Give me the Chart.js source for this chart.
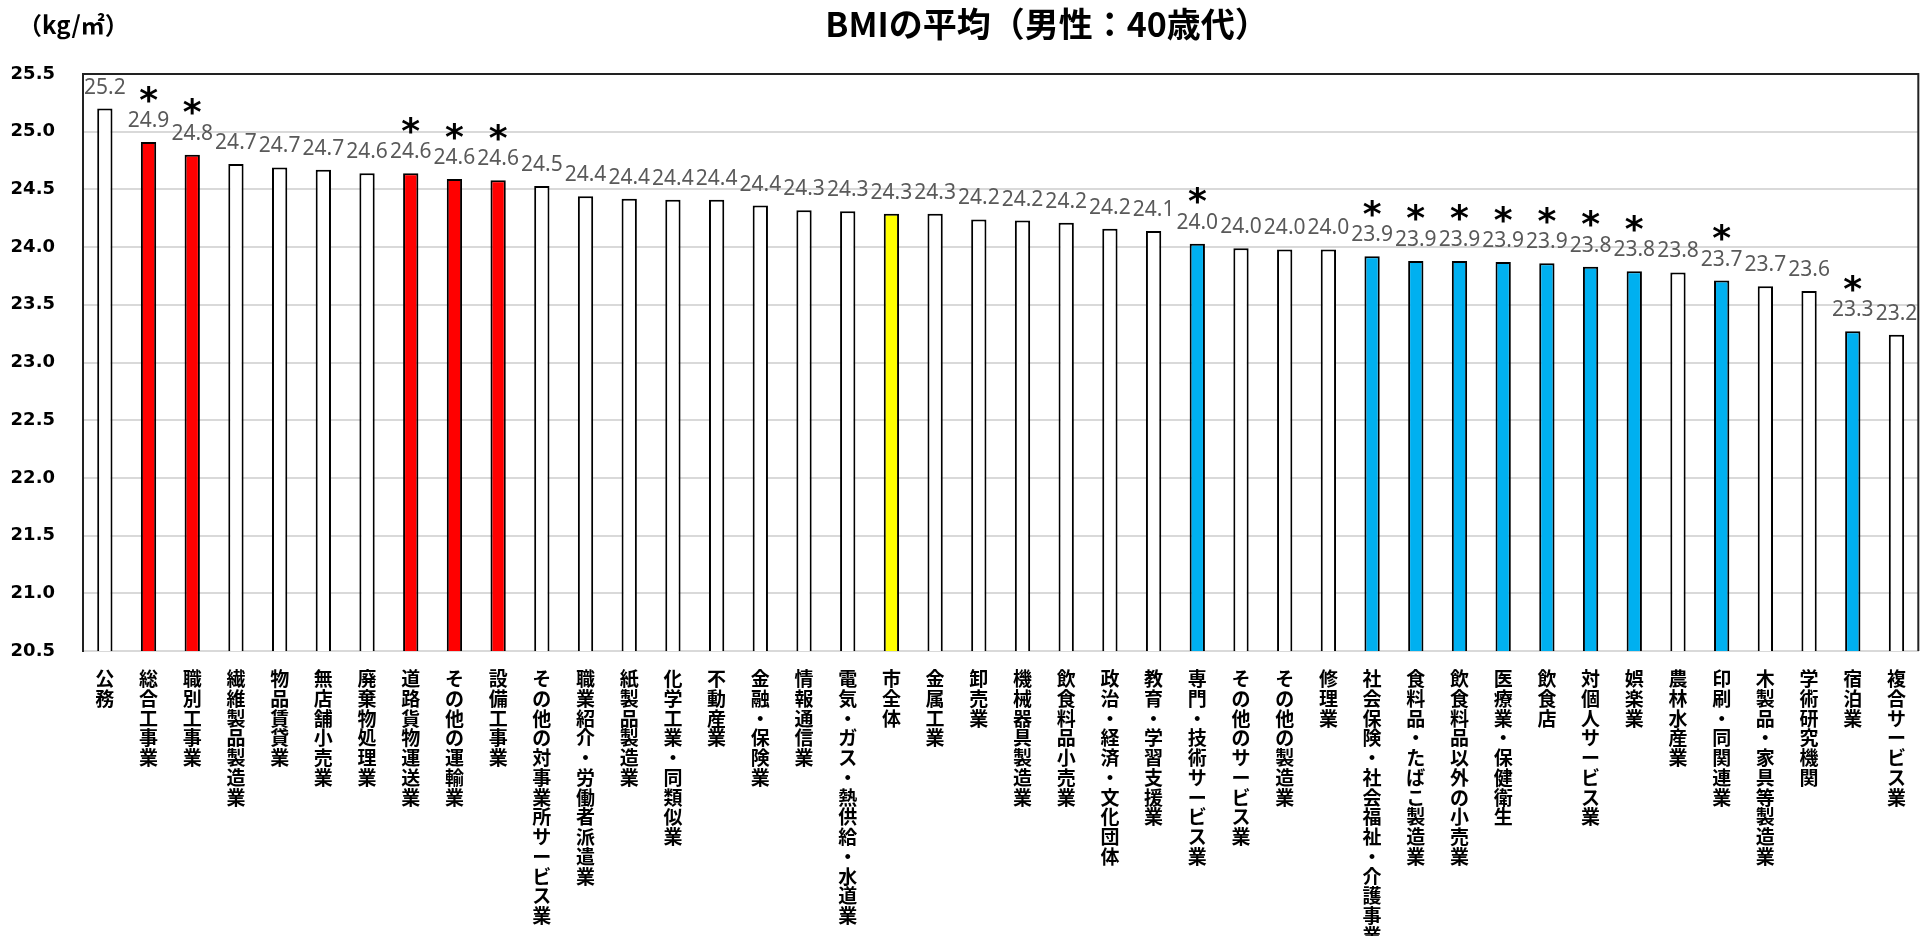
<!DOCTYPE html>
<html><head><meta charset="utf-8">
<script src="https://cdn.jsdelivr.net/npm/chart.js@4.4.1/dist/chart.umd.min.js"></script>
<style>html,body{margin:0;padding:0;background:#fff;overflow:hidden}</style>
</head><body>
<canvas id="c" width="1924" height="936"></canvas>
<script>
const chartTitle = 'BMIの平均（男性：40歳代）';
const unitLabel = '（kg/㎡）';
const categories = [
  '公務','総合工事業','職別工事業','繊維製品製造業','物品賃貸業','無店舗小売業','廃棄物処理業','道路貨物運送業','その他の運輸業','設備工事業',
  'その他の対事業所サービス業','職業紹介・労働者派遣業','紙製品製造業','化学工業・同類似業','不動産業','金融・保険業','情報通信業','電気・ガス・熱供給・水道業','市全体','金属工業',
  '卸売業','機械器具製造業','飲食料品小売業','政治・経済・文化団体','教育・学習支援業','専門・技術サービス業','その他のサービス業','その他の製造業','修理業','社会保険・社会福祉・介護事業',
  '食料品・たばこ製造業','飲食料品以外の小売業','医療業・保健衛生','飲食店','対個人サービス業','娯楽業','農林水産業','印刷・同関連業','木製品・家具等製造業','学術研究機関',
  '宿泊業','複合サービス業'
];
const values = [
  25.20, 24.91, 24.80, 24.72, 24.69, 24.67, 24.64, 24.64, 24.59, 24.58,
  24.53, 24.44, 24.42, 24.41, 24.41, 24.36, 24.32, 24.31, 24.29, 24.29,
  24.24, 24.23, 24.21, 24.16, 24.14, 24.03, 23.99, 23.98, 23.98, 23.92,
  23.88, 23.88, 23.87, 23.86, 23.83, 23.79, 23.78, 23.71, 23.66, 23.62,
  23.27, 23.24
];
// group: 'high' = significantly higher (*), 'low' = significantly lower (*), 'city' = city total, 'none'
const groups = [
  'none','high','high','none','none','none','none','high','high','high',
  'none','none','none','none','none','none','none','none','city','none',
  'none','none','none','none','none','low','none','none','none','low',
  'low','low','low','low','low','low','none','low','none','none',
  'low','none'
];
const yTicks = [20.5, 21.0, 21.5, 22.0, 22.5, 23.0, 23.5, 24.0, 24.5, 25.0, 25.5];

const groupColors = { none: '#FFFFFF', high: '#FF0000', low: '#00B0F0', city: '#FFFF00' };

const decorPlugin = {
  id: 'decor',
  afterDraw(chart) {
    const ctx = chart.ctx;
    const a = chart.chartArea;
    ctx.save();
    ctx.strokeStyle = '#222';
    ctx.lineWidth = 2;
    ctx.beginPath();
    ctx.moveTo(a.left, a.top);
    ctx.lineTo(a.right, a.top);
    ctx.lineTo(a.right, a.bottom);
    ctx.stroke();
    ctx.fillStyle = '#000';
    ctx.textAlign = 'center';
    ctx.textBaseline = 'middle';
    ctx.font = 'bold 34px "Noto Sans CJK JP"';
    ctx.fillText(chartTitle, 1047, 24);
    ctx.textAlign = 'left';
    ctx.font = 'bold 24px "Noto Sans CJK JP"';
    ctx.fillText(unitLabel, 18, 25);
    ctx.restore();
  },
  afterDatasetsDraw(chart) {
    const ctx = chart.ctx;
    const meta = chart.getDatasetMeta(0);
    ctx.save();
    ctx.textAlign = 'center';
    ctx.font = 'bold 36px "DejaVu Sans"';
    const m = ctx.measureText('*');
    const starMid = (m.actualBoundingBoxAscent - m.actualBoundingBoxDescent) / 2;
    meta.data.forEach((bar, i) => {
      const ly = bar.y - 21;
      ctx.fillStyle = '#595959';
      ctx.font = '21px "Noto Sans"';
      ctx.textBaseline = 'middle';
      ctx.fillText(values[i].toFixed(1), bar.x, ly);
      if (groups[i] === 'high' || groups[i] === 'low') {
        ctx.fillStyle = '#000';
        ctx.font = 'bold 36px "DejaVu Sans"';
        ctx.textBaseline = 'alphabetic';
        ctx.fillText('*', bar.x, ly - 27 + starMid);
      }
    });
    ctx.restore();
  }
};

new Chart(document.getElementById('c'), {
  type: 'bar',
  data: {
    labels: categories.map(s => Array.from(s)),
    datasets: [{
      data: values,
      backgroundColor: groups.map(g => groupColors[g]),
      borderColor: '#000',
      borderWidth: 2,
      borderSkipped: false,
      barPercentage: 0.35,
      categoryPercentage: 1
    }]
  },
  options: {
    responsive: false,
    animation: false,
    devicePixelRatio: 1,
    layout: { padding: { top: 74, right: 3, left: 0, bottom: 0 } },
    plugins: { legend: { display: false }, tooltip: { enabled: false }, title: { display: false } },
    scales: {
      x: {
        grid: { display: false, drawTicks: false },
        border: { display: true, color: '#D9D9D9', width: 2 },
        ticks: {
          maxRotation: 0, minRotation: 0, autoSkip: false, padding: 18, color: '#000',
          font: { family: '"Noto Sans CJK JP"', size: 19, weight: 'bold', lineHeight: 1.04 }
        },
        afterFit(s) { s.height = 285; }
      },
      y: {
        min: yTicks[0], max: yTicks[yTicks.length - 1],
        afterBuildTicks(s) { s.ticks = yTicks.map(v => ({ value: v })); },
        ticks: {
          callback: v => Number(v).toFixed(1),
          color: '#000', padding: 28,
          font: { family: '"DejaVu Sans"', size: 18, weight: 'bold' }
        },
        grid: { color: '#D9D9D9', lineWidth: 2, drawTicks: false },
        border: { display: true, color: '#222', width: 2 },
        afterFit(s) { s.width = 83; }
      }
    }
  },
  plugins: [decorPlugin]
});
</script>
</body></html>
